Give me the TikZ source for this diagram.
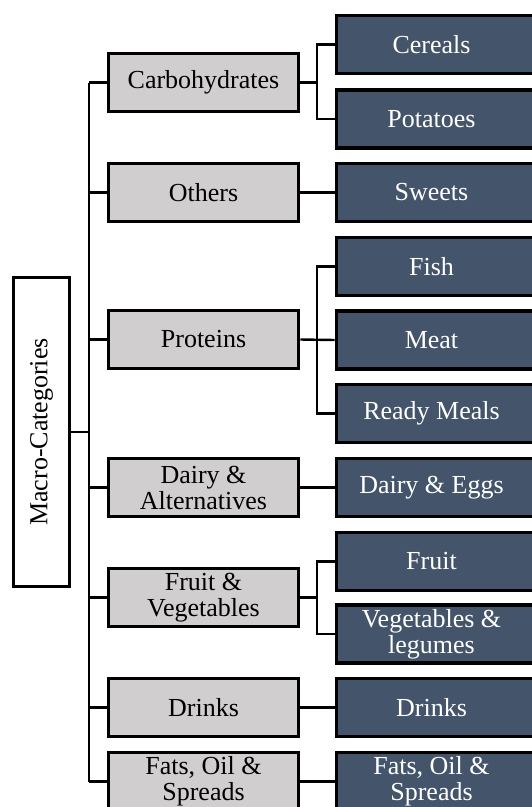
\documentclass[tikz,border=0pt]{standalone}
\usepackage{fontspec}
\usepackage{graphicx}
\setmainfont{Liberation Serif}
\definecolor{catgray}{RGB}{208,206,207}
\definecolor{subblue}{RGB}{68,84,106}
\begin{document}
\begin{tikzpicture}[x=1pt,y=-1pt,
  boxfont/.style={font=\fontsize{26}{26}\selectfont},
  box/.style={draw=black, line width=3.6pt, minimum height=58pt, inner xsep=2pt, inner ysep=0pt, align=center, boxfont},
  cat/.style={box, fill=catgray, minimum width=190pt},
  sub/.style={box, fill=subblue, minimum width=200pt},
  subtext/.style={text=white, boxfont, align=center, xshift=-5pt, inner sep=0pt},
  link/.style={line width=2.4pt}]
\useasboundingbox (0,0) rectangle (531,807);
\fill[white] (0,0) rectangle (531,807);

% root
\node[box, fill=white, minimum width=56pt, minimum height=309pt] (root) at (41.5,432) {\rotatebox{90}{Macro-Categories}};

% level 1
\node[cat] (carb) at (203.5,82.5) {Carbohydrates};
\node[cat] (oth) at (203.5,192.5) {Others};
\node[cat] (prot) at (203.5,339.5) {Proteins};
\node[cat] (dairy) at (203.5,487.5) {Dairy \&\\Alternatives};
\node[cat] (fv) at (203.5,597.5) {Fruit \&\\Vegetables};
\node[cat] (drk) at (203.5,707.5) {Drinks};
\node[cat] (fat) at (203.5,781.5) {Fats, Oil \&\\Spreads};

% level 2
\node[sub, label={[subtext]center:Cereals}] (cer) at (436.5,44.5) {};
\node[sub, label={[subtext]center:Potatoes}] (pot) at (436.5,119) {};
\node[sub, label={[subtext]center:Sweets}] (swe) at (436.5,192.5) {};
\node[sub, label={[subtext]center:Fish}] (fish) at (436.5,266.5) {};
\node[sub, label={[subtext]center:Meat}] (meat) at (436.5,340) {};
\node[sub, label={[subtext]center:Ready Meals}] (ready) at (436.5,413.5) {};
\node[sub, label={[subtext]center:Dairy \& Eggs}] (egg) at (436.5,487.5) {};
\node[sub, label={[subtext]center:Fruit}] (fruit) at (436.5,561.5) {};
\node[sub, label={[subtext]center:{Vegetables \&\\legumes}}] (veg) at (436.5,634) {};
\node[sub, label={[subtext]center:Drinks}] (drk2) at (436.5,707.5) {};
\node[sub, label={[subtext]center:{Fats, Oil \&\\Spreads}}] (fat2) at (436.5,781.5) {};

% buses
\coordinate (t) at (89,0);
\coordinate (b) at (317,0);

\draw[link] (root.east) -- (root.east -| t);
\draw[link] (carb.west -| t) -- (fat.west -| t);
\foreach \n in {carb,oth,prot,dairy,fv,drk,fat}
  \draw[link] (\n.west) -- (\n.west -| t);

\draw[link] (carb.east) -- (carb.east -| b);
\draw[link] (cer.west) -- (cer.west -| b) -- (pot.west -| b) -- (pot.west);
\draw[link] (oth.east) -- (swe.west);
\draw[link] (prot.east) -- (meat.west);
\draw[link] (fish.west) -- (fish.west -| b) -- (ready.west -| b) -- (ready.west);
\draw[link] (dairy.east) -- (egg.west);
\draw[link] (fv.east) -- (fv.east -| b);
\draw[link] (fruit.west) -- (fruit.west -| b) -- (veg.west -| b) -- (veg.west);
\draw[link] (drk.east) -- (drk2.west);
\draw[link] (fat.east) -- (fat2.west);
\end{tikzpicture}
\end{document}
